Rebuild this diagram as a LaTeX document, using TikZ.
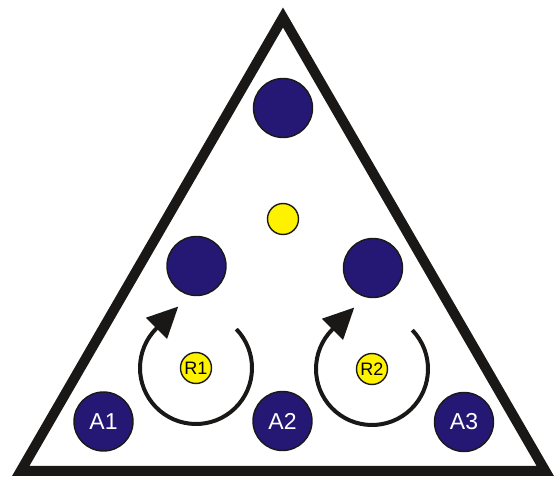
\documentclass[tikz,border=0pt]{standalone}
\usepackage{fontspec}
\setmainfont{Liberation Sans}
\usetikzlibrary{arrows.meta}
\definecolor{navy}{RGB}{36,24,116}
\definecolor{ylw}{RGB}{255,242,0}
\definecolor{ink}{RGB}{26,24,22}
\begin{document}
\begin{tikzpicture}[x=1pt,y=1pt,
  bigdot/.style={circle,draw=ink,line width=1.4pt,fill=navy,minimum size=59pt,inner sep=0pt,text=white,font=\fontsize{23}{23}\selectfont},
  smalldot/.style={circle,draw=ink,line width=1.4pt,fill=ylw,minimum size=31pt,inner sep=0pt,text=black,font=\fontsize{18}{18}\selectfont},
  turn/.style={draw=ink,line width=4pt,-{Triangle[length=31pt,width=29pt]}},
  frame/.style={draw=ink,line width=10pt,miter limit=10,line join=miter}]
\useasboundingbox (0,0) rectangle (555,477);
\coordinate (BL) at (20.7,6);
\coordinate (TP) at (283,459.5);
\coordinate (BR) at (545.3,6);
\draw[frame] (BL) -- (TP) -- (BR) -- cycle;
\node[bigdot] (top) at (283,369) {};
\node[smalldot] (mid) at (283,258) {};
\node[bigdot] (left) at (196.5,211) {};
\node[bigdot] (right) at (373,209) {};
\node[bigdot] (A1) at (103.5,55.5) {A1};
\node[bigdot] (A2) at (282.5,56) {A2};
\node[bigdot] (A3) at (464,55) {A3};
\node[smalldot] (R1) at (196,109) {R1};
\node[smalldot] (R2) at (372,108) {R2};
\draw[turn] (R1.center) ++(44:56pt) arc[start angle=44,end angle=-225,radius=56pt] -- ++(45:31pt);
\draw[turn] (R2.center) ++(44:56pt) arc[start angle=44,end angle=-225,radius=56pt] -- ++(45:31pt);
\end{tikzpicture}
\end{document}
